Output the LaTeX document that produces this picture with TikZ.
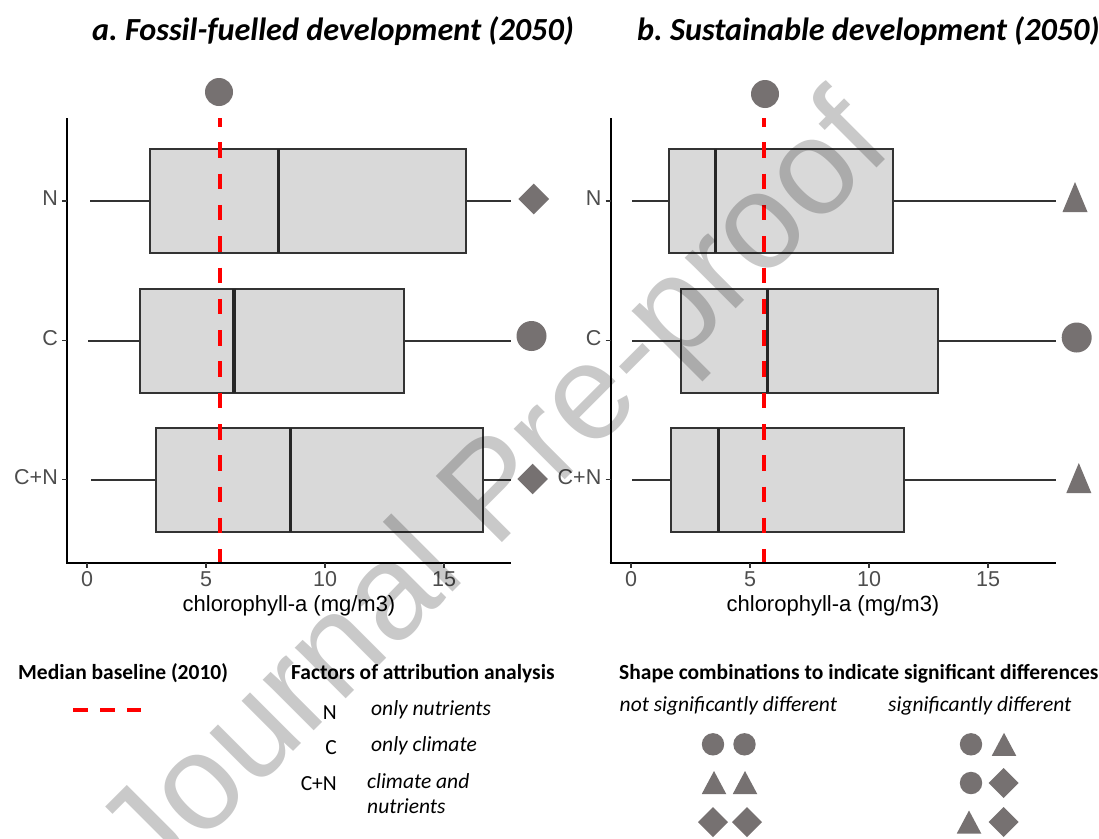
\documentclass[tikz,border=0pt]{standalone}
\usepackage{fontspec}
\setmainfont{Carlito}
\newfontfamily\arialf{Liberation Sans}
\frenchspacing
\definecolor{shp}{HTML}{767171}
\definecolor{boxfill}{HTML}{D9D9D9}
\definecolor{boxline}{HTML}{333333}
\definecolor{ticklab}{HTML}{4D4D4D}
\definecolor{basered}{HTML}{FF0000}
\newcommand\mycirc[3]{\fill[shp] (#1,#2) circle (#3);}
\newcommand\mydia[3]{\fill[shp] (#1,#2-#3) -- (#1+#3,#2) -- (#1,#2+#3) -- (#1-#3,#2) -- cycle;}
\newcommand\mytri[4]{\fill[shp] (#1,#2-#4/2) -- (#1+#3/2,#2+#4/2) -- (#1-#3/2,#2+#4/2) -- cycle;}
% row y, whisker left, q1, median, q3, whisker right
\newcommand\bxrow[6]{%
  \draw[whisk] (#2,#1) -- (#3,#1);
  \draw[whisk] (#5,#1) -- (#6,#1);
  \draw[bxs] (#3,#1-52) rectangle (#5,#1+52);
  \draw[medl] (#4,#1-52) -- (#4,#1+52);
}
\tikzset{
  ttl/.style={font=\fontsize{32.2}{36}\selectfont\bfseries\itshape, inner sep=0, text height=0.65em, text depth=0.2em},
  lgh/.style={font=\fontsize{21.5}{26}\selectfont\bfseries, inner sep=0, text height=0.65em, text depth=0.2em},
  lgi/.style={font=\fontsize{21.5}{26}\selectfont\itshape, inner sep=0, text height=0.65em, text depth=0.2em},
  lgr/.style={font=\fontsize{21.5}{26}\selectfont, inner sep=0, text height=0.65em, text depth=0.2em},
  ytl/.style={font=\arialf\fontsize{21.5}{24}\selectfont, text=ticklab, inner sep=0, anchor=east, text height=0.72em, text depth=0em},
  xtl/.style={font=\arialf\fontsize{21.5}{24}\selectfont, text=ticklab, inner sep=0, anchor=center, text height=0.72em, text depth=0em},
  axt/.style={font=\arialf\fontsize{22}{26}\selectfont, text=black, inner sep=0, text height=0.72em, text depth=0.2em},
  axl/.style={line width=2, black},
  tck/.style={line width=1.8, boxline},
  whisk/.style={line width=2, boxline},
  bxs/.style={line width=2, draw=boxline, fill=boxfill},
  medl/.style={line width=3.3, draw=black!85},
  basel/.style={line width=4.3, basered, dash pattern=on 15.5 off 15.8, dash phase=7},
}
\begin{document}
\begin{tikzpicture}[x=1pt,y=-1pt]
\useasboundingbox (0,0) rectangle (1099,838);
\fill[white] (0,0) rectangle (1099,838);

% titles
\node[ttl, anchor=west] (ta) at (92,38) {a. Fossil-fuelled development (2050)};
\node[ttl, anchor=west] (tb) at (637,38) {b. Sustainable development (2050)};

% ---------- panel a ----------
\bxrow{201}{90}{149.5}{278.5}{466}{511}
\bxrow{340.5}{88}{140}{234}{404}{511}
\bxrow{479.5}{91}{156}{290.5}{483}{511}
\draw[basel] (220,118) -- (220,563);
\draw[axl] (67,118) -- (67,564);
\draw[axl] (66,563) -- (511,563);
\foreach \yy/\lab in {201/N,340.5/C,479.5/C+N}{
  \draw[tck] (62,\yy) -- (67,\yy);
  \node[ytl] at (58,\yy+1) {\lab};
}
\foreach \xx/\lab in {87/0,206/5,325/10,444/15}{
  \draw[tck] (\xx,563) -- (\xx,568);
  \node[xtl] at (\xx,583) {\lab};
}
\node[axt] (xa) at (289,609) {chlorophyll-a (mg/m3)};
\mycirc{219}{92}{14}
\mydia{533.7}{199}{15.3}
\mycirc{531.5}{336}{15}
\mydia{532.6}{479}{15.3}

% ---------- panel b ----------
\bxrow{201}{632}{669}{715.5}{892.5}{1056}
\bxrow{340.5}{632}{681}{767.5}{938}{1056}
\bxrow{479.5}{632}{670.5}{718.5}{904}{1056}
\draw[basel] (764,118) -- (764,563);
\draw[axl] (610.5,118) -- (610.5,564);
\draw[axl] (609.5,563) -- (1056,563);
\foreach \yy/\lab in {201/N,340.5/C,479.5/C+N}{
  \draw[tck] (605.5,\yy) -- (610.5,\yy);
  \node[ytl] at (601.5,\yy+1) {\lab};
}
\foreach \xx/\lab in {631/0,750/5,869/10,988/15}{
  \draw[tck] (\xx,563) -- (\xx,568);
  \node[xtl] at (\xx,583) {\lab};
}
\node[axt] (xb) at (833,609) {chlorophyll-a (mg/m3)};
\mycirc{765}{94}{14}
\mytri{1075}{197}{25}{30}
\mycirc{1076.7}{337.5}{15}
\mytri{1078.8}{478}{25}{30}

% ---------- legends ----------
\node[lgh, anchor=west] (lm) at (18,677) {Median baseline (2010)};
\draw[line width=4.3, basered, dash pattern=on 15 off 12] (73,710) -- (141,710);

\node[lgh, anchor=west] (lf) at (291,677) {Factors of attribution analysis};
\node[lgr, anchor=east] (fN) at (337,717) {N};
\node[lgr, anchor=east] (fC) at (337,752) {C};
\node[lgr, anchor=east] (fCN) at (337,788) {C+N};
\node[lgi, anchor=west] (dN) at (371,713) {only nutrients};
\node[lgi, anchor=west] (dC) at (371,749) {only climate};
\node[lgi, anchor=west] (dCN1) at (367,786) {climate and};
\node[lgi, anchor=west] (dCN2) at (367,811) {nutrients};

\node[lgh, anchor=west] (ls) at (619,677) {Shape combinations to indicate significant differences};
\node[lgi, anchor=west] (ns) at (619.5,709.5) {not significantly different};
\node[lgi, anchor=west] (sg) at (888,709.5) {significantly different};

\mycirc{713}{744.3}{11.2}
\mycirc{744.5}{744.3}{11.2}
\mytri{714}{782.5}{24.5}{23}
\mytri{745}{782.5}{24.5}{23}
\mydia{713}{822}{15}
\mydia{747}{822}{15}

\mycirc{971}{744.3}{11.2}
\mytri{1004}{744.3}{24.5}{23}
\mycirc{971}{783}{11.2}
\mydia{1003.5}{783}{15}
\mytri{969}{822}{24.5}{23}
\mydia{1003.5}{822}{15}

% watermark
\node[font=\arialf\fontsize{136}{140}\selectfont, text=black, text opacity=0.21, inner sep=0, anchor=base, rotate=45] (wm) at (524,521) {Journal Pre-proof};
\end{tikzpicture}
\end{document}
